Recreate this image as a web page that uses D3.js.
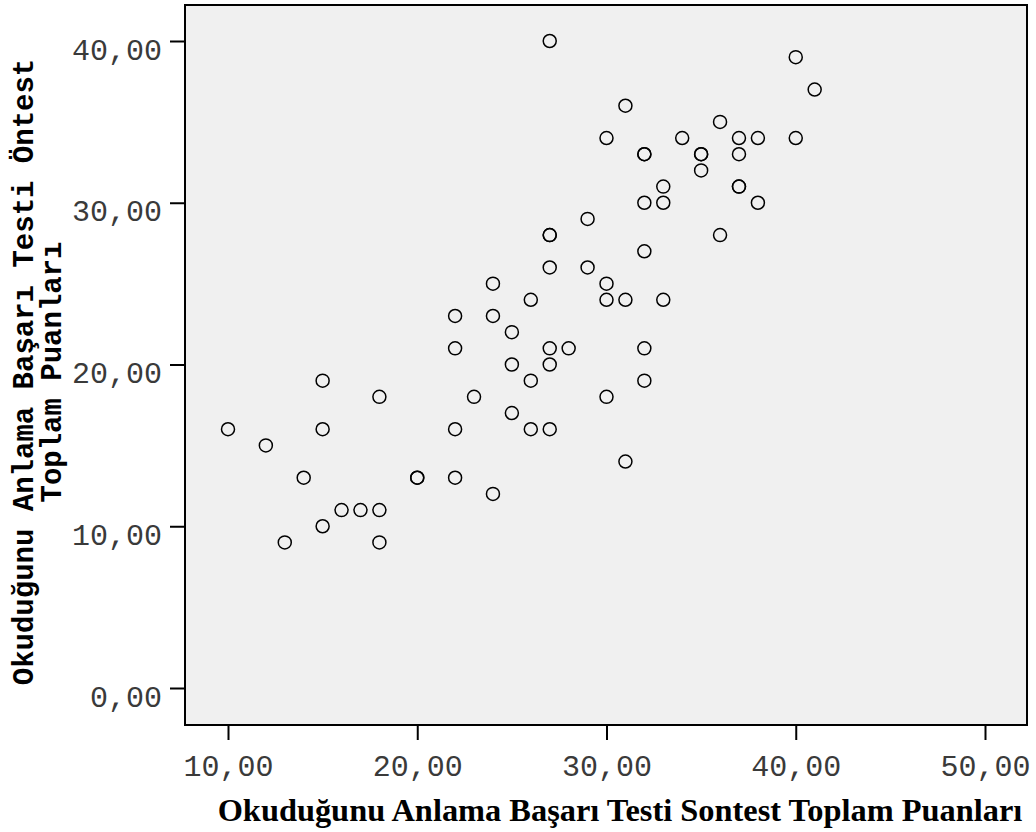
<!DOCTYPE html>
<html>
<head>
<meta charset="utf-8">
<script src="https://cdn.jsdelivr.net/npm/d3@7"></script>
<style>
  body { margin: 0; background: #fff; }
</style>
</head>
<body>
<div id="chart"></div>
<script>
  // sontest (x) / öntest (y) scores; darker rings are repeated cases
  var sontest = [10, 12, 14, 13, 15, 15, 15, 16, 17, 18, 18, 18, 20, 20, 22, 22, 22, 22, 23, 24, 24, 24,
    25, 25, 25, 26, 26, 26, 27, 27, 27, 27, 27, 27, 27, 28, 29, 29, 30, 30, 30, 30, 31, 31, 31,
    32, 32, 32, 32, 32, 32, 33, 33, 33, 34, 35, 35, 35, 36, 36, 37, 37, 37, 37, 38, 38, 40, 40, 41]
  var ontest = [16, 15, 13, 9, 19, 16, 10, 11, 11, 18, 11, 9, 13, 13, 23, 21, 16, 13, 18, 25, 23, 12,
    22, 20, 17, 24, 19, 16, 40, 28, 28, 26, 21, 20, 16, 21, 29, 26, 34, 25, 24, 18, 36, 24, 14,
    33, 33, 30, 27, 21, 19, 31, 30, 24, 34, 33, 33, 32, 35, 28, 34, 33, 31, 31, 34, 30, 39, 34, 37]
  var xTicks = [10, 20, 30, 40, 50]
  var yTicks = [0, 10, 20, 30, 40]
  var xTitle = 'Okuduğunu Anlama Başarı Testi Sontest Toplam Puanları'
  var yTitle = ['Okuduğunu Anlama Başarı Testi Öntest', 'Toplam Puanları']

  var W = 1036, H = 832
  var box = {left: 185, right: 1027, top: 5, bottom: 725}
  var fmt = function(d) { return d3.format('.2f')(d).replace('.', ',') }

  var x = d3.scaleLinear().domain([10, 50]).range([228, 985])
  var y = d3.scaleLinear().domain([0, 40]).range([688, 41])

  var svg = d3.select('#chart').append('svg').attr('width', W).attr('height', H)

  svg.append('rect')
    .attr('x', box.left).attr('y', box.top)
    .attr('width', box.right - box.left).attr('height', box.bottom - box.top)
    .attr('fill', '#f0f0f0').attr('stroke', '#000').attr('stroke-width', 2)

  // y axis
  var yAxis = svg.append('g').attr('transform', 'translate(' + box.left + ',0)')
    .call(d3.axisLeft(y).tickValues(yTicks).tickFormat(fmt).tickSize(15).tickSizeOuter(0))
  yAxis.select('.domain').remove()
  yAxis.selectAll('line').attr('stroke', '#000').attr('stroke-width', 2)
  yAxis.selectAll('text')
    .attr('x', -23).attr('dy', '0.6em')
    .attr('font-family', '"Liberation Mono", monospace').attr('font-size', 30)
    .attr('fill', '#3a3a3a')

  // x axis
  var xAxis = svg.append('g').attr('transform', 'translate(0,' + box.bottom + ')')
    .call(d3.axisBottom(x).tickValues(xTicks).tickFormat(fmt).tickSize(15).tickSizeOuter(0))
  xAxis.select('.domain').remove()
  xAxis.selectAll('line').attr('stroke', '#000').attr('stroke-width', 2)
  xAxis.selectAll('text')
    .attr('y', 30).attr('dy', '0.71em')
    .attr('font-family', '"Liberation Mono", monospace').attr('font-size', 30)
    .attr('fill', '#3a3a3a')

  svg.append('g').selectAll('circle')
    .data(d3.range(sontest.length))
    .enter().append('circle')
    .attr('cx', function(i) { return x(sontest[i]) })
    .attr('cy', function(i) { return y(ontest[i]) })
    .attr('r', 6.5)
    .attr('fill', 'none').attr('stroke', '#000').attr('stroke-width', 1.5)

  svg.append('text')
    .attr('x', 620).attr('y', 821)
    .attr('text-anchor', 'middle')
    .attr('font-family', '"Liberation Serif", "Times New Roman", serif')
    .attr('font-weight', 'bold').attr('font-size', 32.4)
    .text(xTitle)

  svg.append('text')
    .attr('transform', 'translate(33,372) rotate(-90)')
    .attr('text-anchor', 'middle')
    .attr('font-family', '"Liberation Mono", monospace')
    .attr('font-weight', 'bold').attr('font-size', 29)
    .selectAll('tspan')
    .data(yTitle)
    .enter().append('tspan')
    .attr('x', 0).attr('dy', function(d, i) { return i ? 28 : 0 })
    .text(function(d) { return d })
</script>
</body>
</html>
